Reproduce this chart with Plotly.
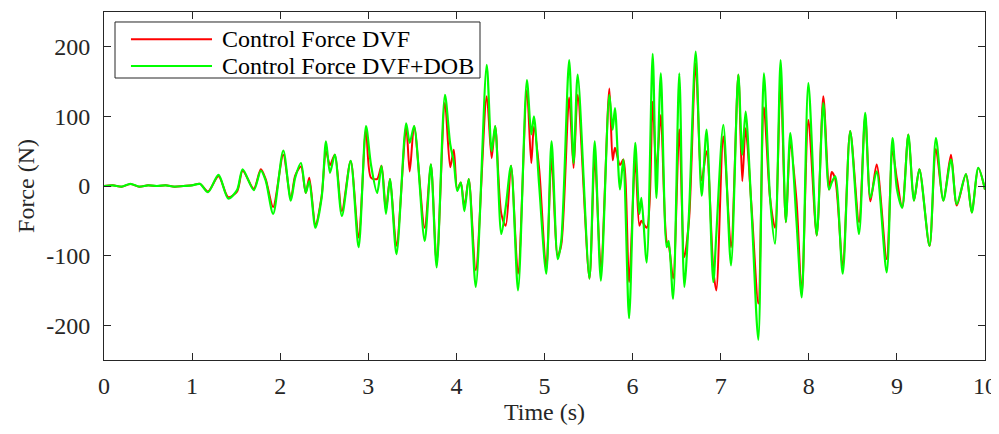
import plotly.graph_objects as go

time_s = [0.00, 0.10, 0.20, 0.30, 0.40, 0.50, 0.60, 0.70, 0.80, 0.90, 1.00, 1.09, 1.18, 1.30, 1.41, 1.51, 1.574, 1.70, 1.78, 1.835,
          1.92, 2.035, 2.12, 2.17, 2.236, 2.29, 2.33, 2.40, 2.47, 2.52, 2.565, 2.62, 2.70, 2.80, 2.89, 2.974, 3.03, 3.10, 3.15, 3.20,
          3.246, 3.32, 3.43, 3.47, 3.52, 3.64, 3.71, 3.776, 3.87, 3.93, 3.97, 4.01, 4.05, 4.09, 4.14, 4.22, 4.344, 4.40, 4.44, 4.51,
          4.56, 4.62, 4.70, 4.80, 4.85, 4.88, 4.94, 5.02, 5.08, 5.15, 5.19, 5.28, 5.33, 5.377, 5.51, 5.57, 5.64, 5.736, 5.774, 5.80,
          5.857, 5.895, 5.96, 6.03, 6.077, 6.10, 6.16, 6.228, 6.27, 6.32, 6.387, 6.41, 6.46, 6.53, 6.587, 6.64, 6.716, 6.784, 6.84, 6.916,
          6.95, 7.03, 7.117, 7.20, 7.245, 7.283, 7.35, 7.427, 7.49, 7.56, 7.616, 7.68, 7.74, 7.79, 7.86, 7.92, 7.995, 8.09, 8.165, 8.23,
          8.26, 8.30, 8.385, 8.47, 8.57, 8.64, 8.70, 8.77, 8.884, 8.95, 9.00, 9.06, 9.13, 9.194, 9.255, 9.37, 9.443, 9.527, 9.614, 9.68,
          9.784, 9.85, 9.924, 10.0]

force_dvf_dob = [0, 1, -1, 3, -1, 1, 0, 1, -1, 0, 1, 3, -9, 16, -18, -6, 24, -6, 22, 8,
                 -40, 51, -21, 12, 33, -10, 7, -60, -17, 64, 19, 45, -43, 36, -88, 86, 31, -10, 29, -40,
                 10, -98, 90, 62, 86, -79, 31, -117, 131, 60, 35, -7, 5, -36, 10, -145, 174, 50, 86, -69,
                 -30, 29, -150, 152, 74, 100, 0, -126, 64, -105, -79, 181, 33, 160, -133, 64, -136, 131, 81, 112,
                 -5, 38, -190, 62, -40, -17, -110, 190, -17, 162, -88, -79, -162, 162, -145, -40, 193, -14, 81, -138,
                 -70, 88, -114, 160, 45, 107, -36, -221, 162, -17, -83, 181, -52, 76, -50, -160, 148, -71, 119, -5,
                 5, 14, -126, 79, -69, 105, -17, 21, -124, 69, -4, -31, 74, -21, 24, -86, 69, -21, 38, -26,
                 17, -38, 26, -5]

force_dvf = [0, 1, -1, 3, -1, 1, 0, 1, -1, 0, 1, 3, -8, 14, -16, -8, 22, -4, 24, 10,
             -30, 45, -19, 15, 28, -10, 12, -55, -15, 50, 30, 45, -36, 36, -74, 80, 12, 10, 29, -35,
             10, -86, 85, 21, 86, -60, 31, -110, 120, 27, 52, -5, 5, -30, 10, -121, 129, 40, 86, -40,
             -57, 29, -126, 138, 33, 85, 24, -120, 40, -100, -85, 127, 26, 131, -133, 41, -117, 140, 37, 55,
             30, 38, -138, 38, -57, -50, -60, 121, 21, 102, -80, -85, -133, 81, -102, -50, 176, 8, 50, -120,
             -150, 71, -88, 160, 7, 83, -30, -169, 113, -17, -60, 150, -52, 60, -20, -155, 95, -71, 129, -5,
             20, 10, -115, 79, -52, 100, -22, 31, -105, 50, 10, -31, 74, -21, 24, -86, 53, -21, 45, -28,
             17, -38, 26, -5]

series_names = ["Control Force DVF", "Control Force DVF+DOB"]
x_ticks = [0, 1, 2, 3, 4, 5, 6, 7, 8, 9, 10]
y_ticks = [-200, -100, 0, 100, 200]
y_tick_labels = ["-200", "-100", "0", "100", "200"]

FONT = "Liberation Serif"
INK = "#262626"
RED = "#ff0000"
GREEN = "#00ff00"

fig = go.Figure()
fig.add_trace(go.Scatter(x=time_s, y=force_dvf, mode="lines", name=series_names[0], showlegend=False,
                         line=dict(color=RED, width=2, shape="spline", smoothing=0.8)))
fig.add_trace(go.Scatter(x=time_s, y=force_dvf_dob, mode="lines", name=series_names[1], showlegend=False,
                         line=dict(color=GREEN, width=2.2, shape="spline", smoothing=0.8)))

axis_common = dict(showgrid=False, zeroline=False, showline=True, linecolor=INK, linewidth=1,
                   mirror="ticks", ticks="inside", ticklen=7, tickcolor=INK, automargin=False,
                   tickfont=dict(family=FONT, size=24, color=INK))

fig.update_xaxes(range=[0, 10], tickvals=x_ticks, ticklabelstandoff=4,
                 title=dict(text="Time (s)", font=dict(family=FONT, size=24, color=INK), standoff=0),
                 **axis_common)
fig.update_yaxes(range=[-250, 250], tickvals=y_ticks, ticktext=y_tick_labels, ticklabelstandoff=8,
                 title=dict(text="Force (N)", font=dict(family=FONT, size=24, color=INK), standoff=4),
                 **axis_common)

# Hand-built legend box (compact row spacing as in the reference)
leg_x0, leg_x1, leg_y0, leg_y1 = 0.0125, 0.4268, 0.8103, 0.9713
line_x0, line_x1, text_x = 0.0306, 0.1226, 0.1317
row_y = [0.9216, 0.8448]
shapes = [dict(type="rect", xref="paper", yref="paper", x0=leg_x0, x1=leg_x1, y0=leg_y0, y1=leg_y1,
               line=dict(color=INK, width=1), fillcolor="white", layer="above")]
annotations = []
for name, color, yy in zip(series_names, [RED, GREEN], row_y):
    shapes.append(dict(type="line", xref="paper", yref="paper", x0=line_x0, x1=line_x1, y0=yy, y1=yy,
                       line=dict(color=color, width=2), layer="above"))
    annotations.append(dict(text=name, xref="paper", yref="paper", x=text_x, y=yy, xanchor="left",
                            yanchor="middle", showarrow=False,
                            font=dict(family=FONT, size=24, color="#000000")))

fig.update_layout(
    width=991, height=426,
    margin=dict(l=96, r=14, t=4, b=74),
    plot_bgcolor="white", paper_bgcolor="white",
    font=dict(family=FONT, size=24, color=INK),
    shapes=shapes, annotations=annotations,
    showlegend=False,
)

fig.write_html("out.html")
